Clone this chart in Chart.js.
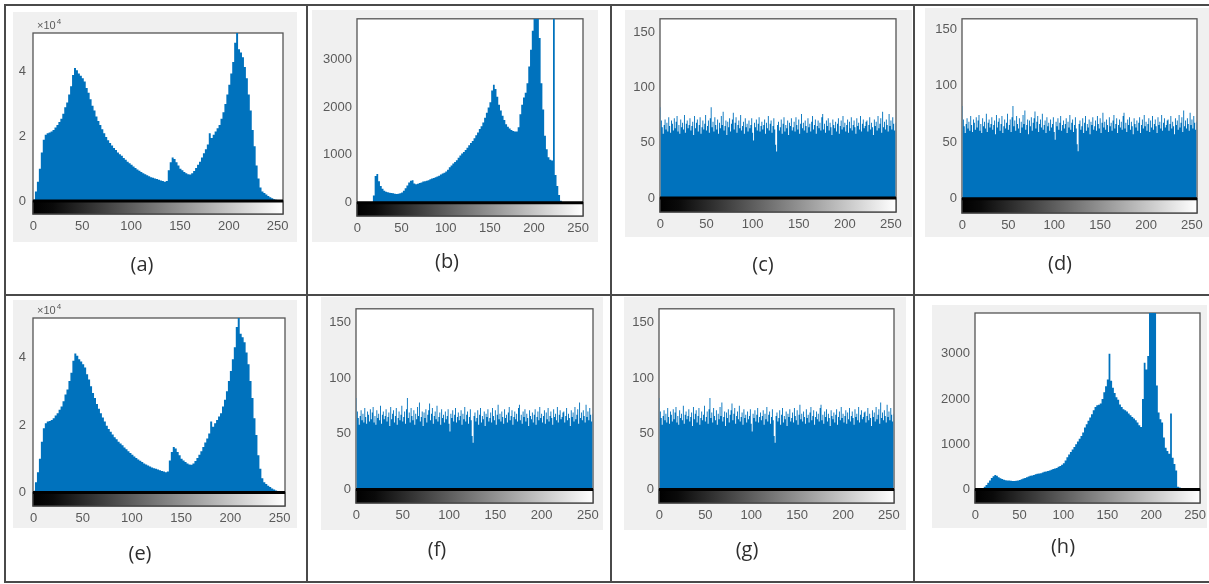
<!DOCTYPE html>
<html><head><meta charset="utf-8">
<script src="https://cdn.jsdelivr.net/npm/chart.js@4.4.0/dist/chart.umd.min.js"></script>
<style>
html,body{margin:0;padding:0;background:#fff;}
#fig{position:relative;width:1209px;height:584px;overflow:hidden;background:#fff;}
.bg{position:absolute;background:#f0f0f0;z-index:0;}
canvas{position:absolute;z-index:1;}
.ln{position:absolute;background:#4a4a4a;z-index:3;}
.lab{position:absolute;z-index:2;font-family:"Open Sans","Noto Sans",sans-serif;font-size:20px;color:#2e2e2e;transform:translate(-50%,-50%);white-space:nowrap;}
</style></head><body><div id="fig"></div>
<script>
// ---------- data ----------
const grayLevelTicks = [0, 50, 100, 150, 200, 250];
const plainTicksE4 = [0, 2, 4];            // counts ×10^4
const plainTicksK = [0, 1000, 2000, 3000];
const cipherTicks = [0, 50, 100, 150];
const panelLabels = ['(a)', '(b)', '(c)', '(d)', '(e)', '(f)', '(g)', '(h)'];

// histogram (a)/(e), 2-level bins, counts ×10^4
const histA = [
 0.05,0.3,0.6,1.0,1.5,1.9,2.05,2.1,2.12,2.15,2.2,2.28,2.35,2.45,2.55,2.7,
 2.9,3.05,3.3,3.55,3.9,4.12,4.05,3.95,3.88,3.8,3.7,3.5,3.35,3.15,2.95,2.8,
 2.62,2.48,2.35,2.22,2.1,1.98,1.88,1.8,1.72,1.64,1.58,1.5,1.45,1.4,1.33,1.28,
 1.22,1.17,1.12,1.07,1.02,0.98,0.94,0.9,0.86,0.83,0.8,0.77,0.74,0.72,0.7,0.68,
 0.66,0.64,0.62,0.6,0.62,0.95,1.2,1.35,1.3,1.2,1.1,1.0,0.95,0.9,0.86,0.83,
 0.82,0.86,0.93,1.02,1.12,1.22,1.35,1.48,1.6,1.75,2.1,1.95,2.05,2.15,2.25,2.35,
 2.55,2.75,3.0,3.3,3.6,3.95,4.3,4.9,5.6,4.7,4.6,4.45,4.15,3.8,3.3,2.8,
 2.2,1.7,1.1,0.7,0.42,0.3,0.25,0.2,0.16,0.12,0.09,0.06,0.04,0.02,0.01,0];

// histogram (b), 2-level bins
const histB = [
 0,0,0,0,0,0,0,0,0,150,560,600,450,350,290,250,
 230,215,205,200,195,185,180,185,195,210,250,300,360,420,460,470,
 400,385,395,410,420,440,450,460,470,490,505,515,530,545,565,590,
 610,625,650,690,740,780,820,850,890,940,985,1030,1060,1100,1150,1200,
 1250,1290,1350,1410,1470,1540,1600,1680,1780,1880,1990,2100,2350,2470,2380,2220,
 2050,1930,1820,1730,1640,1590,1550,1520,1500,1490,1490,1580,1850,2050,2200,2300,
 2500,2850,3200,3600,4300,4400,4300,3450,2500,1950,1400,1120,950,900,880,3860,
 580,350,160,40,0,0,0,0,0,0,0,0,0,0,0,0];

// histogram (h), 2-level bins
const histH = [
 0,0,0,0,20,60,100,150,200,250,290,320,300,270,245,230,
 215,205,200,195,190,185,185,190,200,210,225,240,255,270,285,300,
 310,320,335,345,350,360,375,390,395,405,420,435,450,460,475,500,
 520,545,580,640,710,770,830,880,940,1000,1060,1120,1180,1260,1370,1440,
 1520,1590,1660,1750,1820,1860,1870,1900,2000,2150,2280,2430,3000,2400,2250,2130,
 2040,1980,1880,1820,1770,1750,1720,1680,1640,1600,1570,1530,1480,1420,1380,2000,
 2800,2650,2950,4100,4100,4100,4050,2300,1700,1550,1480,1150,920,850,790,1680,
 700,560,420,60,40,30,25,20,20,15,15,10,10,5,5,0];

// cipher-image histograms (c),(d),(f),(g), one bin per gray level
const cipherCounts = [
 82,70,64,58,66,71,62,68,60,73,65,59,70,67,61,72,
 63,69,74,60,66,58,71,64,68,62,75,59,67,70,63,66,
 72,61,65,69,57,74,63,68,71,60,66,73,58,64,70,62,
 67,75,61,65,70,59,72,82,64,69,60,73,66,62,71,58,
 68,63,74,66,78,61,65,70,57,69,64,72,60,67,71,77,
 62,68,73,59,66,70,63,75,61,65,69,58,72,64,67,60,
 70,63,66,72,59,52,68,64,71,61,67,73,60,65,69,62,
 66,71,58,68,63,74,61,67,70,59,65,72,62,48,42,66,
 69,61,64,71,58,67,73,60,66,63,70,57,68,65,72,61,
 64,69,60,73,66,62,71,58,67,76,63,68,61,70,65,59,
 72,64,67,60,69,74,62,66,71,58,65,70,63,68,61,73,
 76,62,67,59,70,65,72,61,68,64,57,71,66,63,69,60,
 67,72,58,65,70,62,74,64,68,60,66,71,59,69,63,73,
 61,66,70,64,58,72,65,68,62,74,60,67,71,63,65,69,
 70,60,66,73,62,68,64,57,71,65,69,61,74,63,67,72,
 59,78,64,69,62,71,66,60,76,65,70,62,73,67,61,68];

const panels = [
 {counts: histA, yTicks: plainTicksE4, yMin: -0.4, yMax: 5.2, exponent: '4'},
 {counts: histB, yTicks: plainTicksK, yMin: -280, yMax: 3850},
 {counts: cipherCounts, yTicks: cipherTicks, yMin: -12.7, yMax: 162},
 {counts: cipherCounts, yTicks: cipherTicks, yMin: -12.7, yMax: 159},
 {counts: histA, yTicks: plainTicksE4, yMin: -0.4, yMax: 5.17, exponent: '4'},
 {counts: cipherCounts, yTicks: cipherTicks, yMin: -12.1, yMax: 162},
 {counts: cipherCounts, yTicks: cipherTicks, yMin: -12.1, yMax: 162},
 {counts: histH, yTicks: plainTicksK, yMin: -300, yMax: 3900}
];

// ---------- layout (pixels) ----------
const layout = [
 {cell:[6,6,306,294],   bg:[13,12,297,242],   box:[33,33,283,214],   lab:[142,263], yPad:7},
 {cell:[308,6,610,294], bg:[312,10,598,242],  box:[357,13,583,216],  lab:[447,260], yPad:5},
 {cell:[612,6,913,294], bg:[625,10,912,237],  box:[660,13,896,212],  lab:[763,263], yPad:5},
 {cell:[915,6,1209,294],bg:[925,8,1209,237],  box:[962,17,1197,213], lab:[1060,262],yPad:5},
 {cell:[6,296,306,581], bg:[13,300,297,528],  box:[33,318,285,506],  lab:[140,552], yPad:7},
 {cell:[308,296,610,581],bg:[321,297,603,530],box:[356,303,593,503], lab:[437,548], yPad:5},
 {cell:[612,296,913,581],bg:[624,297,906,530],box:[659,303,894,503], lab:[747,548], yPad:5},
 {cell:[915,296,1209,581],bg:[932,305,1207,528],box:[975,313,1200,503],lab:[1063,545],yPad:5}
];
const lines = [
 [4,4,1205,2],[4,4,2,579],[306,4,2,579],[610,4,2,579],[913,4,2,579],
 [4,294,1205,2],[4,581,1205,2]
];

const BLUE = '#0072BD';
const TICK_FONT = {family: '"Liberation Sans", Arial, sans-serif', size: 13};
const TICK_COLOR = '#5a5a5a';

const matlabAxes = {
  id: 'matlabAxes',
  beforeDatasetsDraw(chart) {
    const {ctx, chartArea: a} = chart;
    ctx.save();
    ctx.fillStyle = '#fff';
    ctx.fillRect(a.left, a.top, a.width, a.height);
    ctx.strokeStyle = '#555';
    ctx.lineWidth = 1.3;
    ctx.strokeRect(a.left, a.top, a.width, a.height);
    ctx.restore();
  },
  afterDatasetsDraw(chart, args, opts) {
    const {ctx, chartArea: a, scales: {y}} = chart;
    const y0 = y.getPixelForValue(0);
    ctx.save();
    const g = ctx.createLinearGradient(a.left, 0, a.right, 0);
    g.addColorStop(0, '#000');
    g.addColorStop(0.08, '#0a0a0a');
    g.addColorStop(1, '#fff');
    ctx.fillStyle = g;
    ctx.fillRect(a.left, y0, a.width, a.bottom - y0);
    ctx.strokeStyle = '#444';
    ctx.lineWidth = 1.3;
    ctx.strokeRect(a.left, y0, a.width, a.bottom - y0);
    ctx.strokeStyle = '#000';
    ctx.lineWidth = 3;
    ctx.beginPath(); ctx.moveTo(a.left, y0); ctx.lineTo(a.right, y0); ctx.stroke();
    if (opts && opts.exponent) {
      ctx.fillStyle = TICK_COLOR;
      ctx.textBaseline = 'alphabetic';
      ctx.font = '11px "Liberation Sans", Arial, sans-serif';
      const x = a.left + 4, yy = a.top - 4;
      ctx.fillText('\u00d710', x, yy);
      const w = ctx.measureText('\u00d710').width;
      ctx.font = '8px "Liberation Sans", Arial, sans-serif';
      ctx.fillText(opts.exponent, x + w + 1, yy - 5);
    }
    ctx.restore();
  }
};

const fig = document.getElementById('fig');
lines.forEach(([x, y, w, h]) => {
  const d = document.createElement('div'); d.className = 'ln';
  Object.assign(d.style, {left: x + 'px', top: y + 'px', width: w + 'px', height: h + 'px'});
  fig.appendChild(d);
});

panels.forEach((p, k) => {
  const L = layout[k];
  const bg = document.createElement('div'); bg.className = 'bg';
  Object.assign(bg.style, {left: L.bg[0] + 'px', top: L.bg[1] + 'px',
    width: (L.bg[2] - L.bg[0]) + 'px', height: (L.bg[3] - L.bg[1]) + 'px'});
  fig.appendChild(bg);

  const lab = document.createElement('div'); lab.className = 'lab';
  lab.textContent = panelLabels[k];
  Object.assign(lab.style, {left: L.lab[0] + 'px', top: L.lab[1] + 'px'});
  fig.appendChild(lab);

  const cx = L.cell[0], cy = L.cell[1];
  const cw = L.cell[2] - L.cell[0] + 20, ch = L.cell[3] - L.cell[1];
  const cv = document.createElement('canvas');
  cv.width = cw; cv.height = ch;
  Object.assign(cv.style, {left: cx + 'px', top: cy + 'px', width: cw + 'px', height: ch + 'px'});
  fig.appendChild(cv);

  const binW = 256 / p.counts.length;
  const pts = p.counts.map((v, i) => ({x: i * binW + (binW - 1) / 2, y: v}));
  const box = L.box;

  new Chart(cv, {
    type: 'line',
    data: {datasets: [{data: pts, backgroundColor: BLUE, borderColor: 'rgba(0,0,0,0)', borderWidth: 0,
      fill: 'origin', stepped: 'middle', pointRadius: 0, tension: 0, clip: false}]},
    options: {
      responsive: false, animation: false, events: [],
      layout: {padding: {top: box[1] - cy, right: cx + cw - box[2], bottom: 0, left: 0}},
      plugins: {legend: {display: false}, tooltip: {enabled: false},
        matlabAxes: {exponent: p.exponent || null}},
      scales: {
        x: {type: 'linear', min: -0.5, max: 255.5, offset: false,
          grid: {display: false, drawTicks: false}, border: {display: false},
          ticks: {font: TICK_FONT, color: TICK_COLOR, padding: 5, maxRotation: 0, autoSkip: false,
            callback: v => String(v)},
          afterBuildTicks: s => { s.ticks = grayLevelTicks.map(v => ({value: v})); },
          afterFit: s => { s.height = cy + ch - box[3]; }},
        y: {min: p.yMin, max: p.yMax,
          grid: {display: false, drawTicks: false}, border: {display: false},
          ticks: {font: TICK_FONT, color: TICK_COLOR, padding: L.yPad, autoSkip: false,
            callback: v => String(v)},
          afterBuildTicks: s => { s.ticks = p.yTicks.map(v => ({value: v})); },
          afterFit: s => { s.width = box[0] - cx; }}
      }
    },
    plugins: [matlabAxes]
  });
});
</script></body></html>
